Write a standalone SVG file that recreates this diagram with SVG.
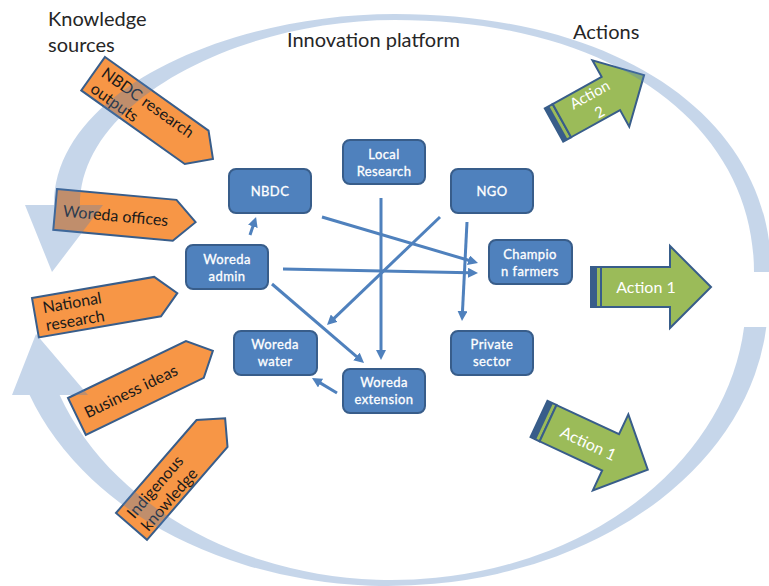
<svg xmlns="http://www.w3.org/2000/svg" width="769" height="586" viewBox="0 0 769 586">
<defs>
<style>
.title{font-family:Lato,"Open Sans","Liberation Sans",sans-serif;font-size:20px;fill:#262626}
.src polygon{fill:#F79646;stroke:#385D8A;stroke-width:2}
.src text{font-family:Lato,"Open Sans","Liberation Sans",sans-serif;font-size:16px;fill:#1a1a1a}
.act .body{fill:#9BBB59;stroke:#385D8A;stroke-width:2}
.act .stripe{fill:#385D8A}
.act text{font-family:Lato,"Open Sans","Liberation Sans",sans-serif;font-size:16px;fill:#ffffff;text-anchor:middle}
.node rect{fill:#4F81BD;stroke:#385D8A;stroke-width:2}
.node text{font-family:Lato,"Open Sans","Liberation Sans",sans-serif;font-size:13px;fill:#ffffff;stroke:#ffffff;stroke-width:0.3;text-anchor:middle;letter-spacing:0.4px}
.conn path{fill:none;stroke:#4F81BD;stroke-width:3;marker-end:url(#ah)}
.ring{fill:#4F81BD;fill-opacity:0.32}
</style>
<marker id="ah" viewBox="0 0 10 10" refX="1" refY="5" markerWidth="10" markerHeight="10" markerUnits="userSpaceOnUse" orient="auto"><path d="M0,0 L10,5 L0,10 Z" fill="#4F81BD"/></marker>
</defs>
<rect width="769" height="586" fill="#ffffff"/>

<g id="titles">
<text class="title" x="48" y="26">Knowledge</text>
<text class="title" x="48" y="52">sources</text>
<text class="title" x="287" y="47">Innovation platform</text>
<text class="title" x="573" y="39">Actions</text>
</g>

<g id="src-nbdc-research" class="src" transform="translate(105,57) rotate(35.4)">
<polygon points="0,0 127,0 147,20.5 127,41 0,41"/>
<text x="7" y="18">NBDC research</text>
<text x="7" y="37">outputs</text>
</g>
<g id="src-woreda-offices" class="src" transform="translate(57,189) rotate(5.2)">
<polygon points="0,0 120,0 141,20.5 120,41 0,41"/>
<text x="8" y="27">Woreda offices</text>
</g>
<g id="src-national-research" class="src" transform="translate(32,298) rotate(-9.8)">
<polygon points="0,0 124,0 144,20 124,40 0,40"/>
<text x="9" y="17">National</text>
<text x="9" y="35">research</text>
</g>
<g id="src-business-ideas" class="src" transform="translate(68,398) rotate(-25.8)">
<polygon points="0,0 131,0 151,20.5 131,41 0,41"/>
<text x="9" y="27">Business ideas</text>
</g>
<g id="src-indigenous" class="src" transform="translate(116,513) rotate(-49.1)">
<polygon points="0,0 123,0 143,20.5 123,41 0,41"/>
<text x="7" y="18">Indigenous</text>
<text x="7" y="37">knowledge</text>
</g>

<g id="action-2" class="act" transform="translate(554,125) rotate(-29)">
<rect class="body" x="0" y="-19" width="9" height="38"/>
<rect class="stripe" x="0" y="-19" width="5" height="38"/>
<path class="body" d="M9,-19 H65 V-38 L103,0 L65,38 V19 H9 Z"/>
<text x="46" y="-4" style="font-size:15px">Action</text>
<text x="46" y="16" style="font-size:15px">2</text>
</g>
<g id="action-1-main" class="act" transform="translate(591,287)">
<rect class="body" x="0" y="-20" width="10" height="40"/>
<rect class="stripe" x="0" y="-20" width="6" height="40"/>
<path class="body" d="M10,-20 H79 V-41 L120,0 L79,41 V20 H10 Z"/>
<text x="55" y="6">Action 1</text>
</g>
<g id="action-1-lower" class="act" transform="translate(539,419) rotate(25)">
<rect class="body" x="0" y="-20" width="10" height="40"/>
<rect class="stripe" x="0" y="-20" width="6" height="40"/>
<path class="body" d="M10,-20 H79 V-42 L120,0 L79,42 V20 H10 Z"/>
<text x="55" y="7">Action 1</text>
</g>

<g id="cycle">
<path class="ring" d="M771,272 C772,125 629,14 395,14 C230,14 54,90 54,205 L25,205 L52,272 L103,205 L80,205 C80,100 240,20 395,20 C620,20 754,130 754,272 Z"/>
<path class="ring" d="M766.3,327 A380 286 0 0 1 29.6,395 L12,395 L36,334 L88,395 L59.6,395 A354 282 0 0 0 744.1,327 Z"/>
</g>

<g id="connectors" class="conn">
<path d="M250,235 L253.2,225.5"/>
<path d="M322,217 L469.4,260.5"/>
<path d="M283,269 L469,272.8"/>
<path d="M381,198 L381,351"/>
<path d="M440,217 L333.5,318.8"/>
<path d="M467,222 L462.45,312"/>
<path d="M272,284 L357.2,357.1"/>
<path d="M337,393 L319.7,382.6"/>
</g>

<g id="node-local-research" class="node"><rect x="343" y="140" width="82" height="44" rx="7"/><text x="384" y="159">Local</text><text x="384" y="176">Research</text></g>
<g id="node-nbdc" class="node"><rect x="229" y="169" width="82" height="44" rx="7"/><text x="270" y="196">NBDC</text></g>
<g id="node-ngo" class="node"><rect x="451" y="169" width="82" height="44" rx="7"/><text x="492" y="196">NGO</text></g>
<g id="node-woreda-admin" class="node"><rect x="186" y="245" width="82" height="44" rx="7"/><text x="227" y="264">Woreda</text><text x="227" y="281">admin</text></g>
<g id="node-champion-farmers" class="node"><rect x="489" y="240" width="83" height="44" rx="7"/><text x="530" y="259">Champio</text><text x="530" y="276">n farmers</text></g>
<g id="node-woreda-water" class="node"><rect x="234" y="331" width="83" height="44" rx="7"/><text x="275" y="349">Woreda</text><text x="275" y="366">water</text></g>
<g id="node-private-sector" class="node"><rect x="451" y="331" width="82" height="44" rx="7"/><text x="492" y="349">Private</text><text x="492" y="366">sector</text></g>
<g id="node-woreda-extension" class="node"><rect x="343" y="369" width="82" height="44" rx="7"/><text x="384" y="387">Woreda</text><text x="384" y="404">extension</text></g>
</svg>
